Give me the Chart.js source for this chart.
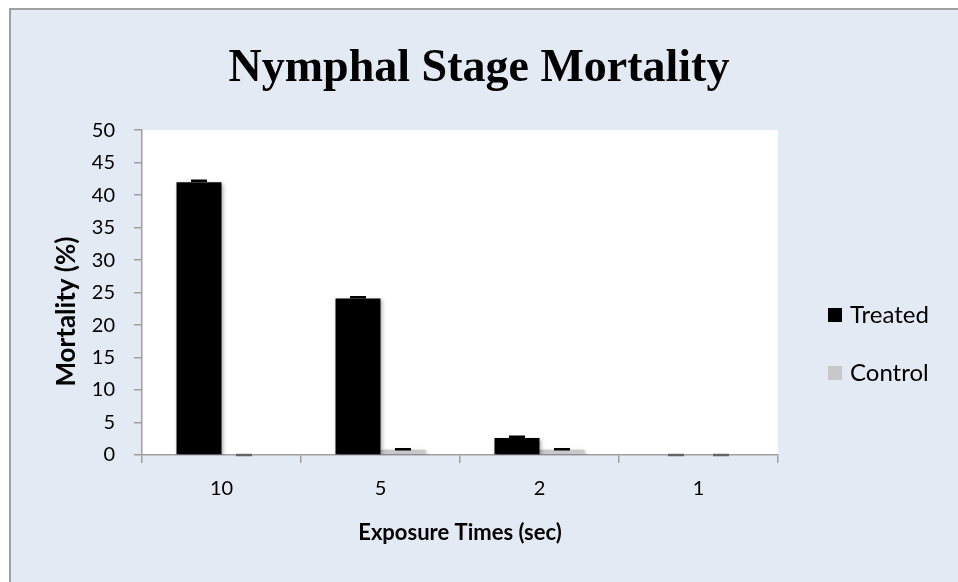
<!DOCTYPE html>
<html>
<head>
<meta charset="utf-8">
<script src="https://cdn.jsdelivr.net/npm/chart.js@4.4.1/dist/chart.umd.min.js"></script>
<style>
  html, body { margin: 0; padding: 0; background: #ffffff; }
  #frame {
    position: absolute; left: 9px; top: 8px; width: 960px; height: 580px;
    background: #E3EAF4; border-left: 2px solid #A0A0A0; border-top: 2px solid #A0A0A0;
  }
  #wrap { position: absolute; left: 0; top: 0; width: 958px; height: 582px; }
</style>
</head>
<body>
<div id="frame"></div>
<div id="wrap"><canvas id="myChart" width="958" height="582"></canvas></div>
<script>
// Dados
const exposureTimes = ['10', '5', '2', '1'];
const treatedValues = [42, 24.1, 2.6, 0];
const controlValues = [0, 0.8, 0.8, 0];
const treatedErrors = [0.2, 0.2, 0.2, 0];
const controlErrors = [0, 0.1, 0.1, 0];
const yTicks = [0, 5, 10, 15, 20, 25, 30, 35, 40, 45, 50];

const axisGray = '#A0A0A0';

// fundo branco da area do grafico
const plotBackground = {
    id: 'plotBackground',
    beforeDraw(chart) {
        const {ctx, chartArea} = chart;
        ctx.save();
        ctx.fillStyle = '#ffffff';
        ctx.fillRect(chartArea.left, chartArea.top, chartArea.right - chartArea.left, chartArea.bottom - chartArea.top);
        ctx.restore();
    }
};

// sombra leve nas barras
const barShadow = {
    id: 'barShadow',
    beforeDatasetDraw(chart) {
        const ctx = chart.ctx;
        ctx.save();
        ctx.shadowColor = 'rgba(0,0,0,0.35)';
        ctx.shadowBlur = 4;
        ctx.shadowOffsetX = 1;
        ctx.shadowOffsetY = 2;
    },
    afterDatasetDraw(chart) {
        chart.ctx.restore();
    }
};

// barras de erro
const errorBars = {
    id: 'errorBars',
    afterDatasetsDraw(chart) {
        const ctx = chart.ctx;
        const yScale = chart.scales.y;
        const allErrors = [treatedErrors, controlErrors];
        chart.data.datasets.forEach((ds, di) => {
            const meta = chart.getDatasetMeta(di);
            meta.data.forEach((bar, i) => {
                const v = ds.data[i];
                const e = allErrors[di][i];
                const yTop = yScale.getPixelForValue(v + e);
                const yVal = yScale.getPixelForValue(v);
                ctx.save();
                ctx.strokeStyle = v === 0 ? '#666666' : '#000000';
                ctx.lineWidth = 2.5;
                ctx.beginPath();
                ctx.moveTo(bar.x, yVal);
                ctx.lineTo(bar.x, yTop);
                ctx.moveTo(bar.x - 8, yTop);
                ctx.lineTo(bar.x + 8, yTop);
                ctx.stroke();
                ctx.restore();
            });
        });
    }
};

// legenda desenhada a direita
const sideLegend = {
    id: 'sideLegend',
    afterDraw(chart) {
        const ctx = chart.ctx;
        ctx.save();
        ctx.font = '24px Lato';
        ctx.textBaseline = 'middle';
        const rows = [315, 373];
        chart.data.datasets.forEach((ds, i) => {
            ctx.fillStyle = ds.backgroundColor;
            ctx.fillRect(828, rows[i] - 7, 14, 14);
            ctx.fillStyle = '#000000';
            ctx.fillText(ds.label, 850, rows[i]);
        });
        ctx.restore();
    }
};

const ctx = document.getElementById('myChart').getContext('2d');
const myChart = new Chart(ctx, {
    type: 'bar',
    data: {
        labels: exposureTimes,
        datasets: [
            {
                label: 'Treated',
                data: treatedValues,
                backgroundColor: '#000000',
                categoryPercentage: 0.566,
                barPercentage: 1.0
            },
            {
                label: 'Control',
                data: controlValues,
                backgroundColor: '#C8C8C8',
                categoryPercentage: 0.566,
                barPercentage: 1.0
            }
        ]
    },
    options: {
        responsive: false,
        animation: false,
        layout: { padding: 0 },
        plugins: {
            legend: { display: false },
            tooltip: { enabled: false },
            title: {
                display: true,
                text: 'Nymphal Stage Mortality',
                color: '#000000',
                font: { family: 'Liberation Serif', size: 46, weight: 'bold' },
                padding: { top: 42, bottom: 33 }
            }
        },
        scales: {
            x: {
                afterFit(scale) { scale.height = 127; },
                grid: { drawOnChartArea: false, offset: true, color: axisGray, lineWidth: 1.5, tickLength: 8 },
                border: { color: axisGray, width: 1.5 },
                ticks: { color: '#000000', font: { family: 'Lato', size: 20 }, padding: 14 },
                title: {
                    display: true,
                    text: 'Exposure Times (sec)',
                    color: '#000000',
                    font: { family: 'Lato', size: 22, weight: 'bold' },
                    padding: { top: 0, bottom: 36 }
                }
            },
            y: {
                min: 0,
                max: 50,
                afterFit(scale) { scale.width = 142; },
                afterBuildTicks(scale) { scale.ticks = yTicks.map(v => ({ value: v })); },
                grid: { drawOnChartArea: false, color: axisGray, lineWidth: 1.5, tickLength: 8 },
                border: { color: axisGray, width: 1.5 },
                ticks: { color: '#000000', font: { family: 'Lato', size: 20 }, padding: 19 },
                title: {
                    display: true,
                    // espacos no fim empurram o texto um pouco para baixo, como no original
                    text: 'Mortality (%)\u00A0\u00A0\u00A0\u00A0\u00A0\u00A0',
                    color: '#000000',
                    font: { family: 'Lato', size: 26, weight: 'bold' },
                    padding: { top: 51, bottom: 0 }
                }
            },
            // eixo vazio so para reservar o espaco da legenda
            legendSpace: {
                axis: 'y',
                position: 'right',
                min: 0,
                max: 50,
                afterFit(scale) { scale.width = 180; },
                grid: { display: false },
                border: { display: false },
                ticks: { display: false }
            }
        }
    },
    plugins: [plotBackground, barShadow, errorBars, sideLegend]
});
</script>
</body>
</html>
